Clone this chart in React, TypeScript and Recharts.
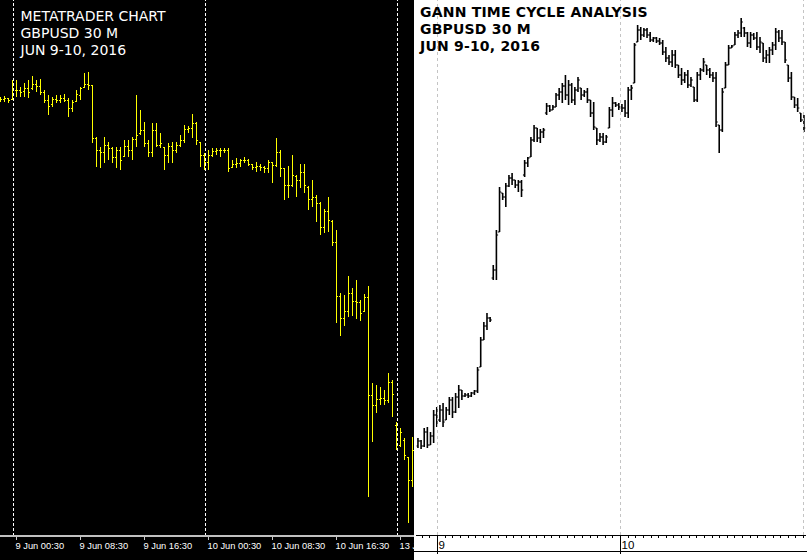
import React from 'react';
import { ComposedChart, Bar, XAxis, YAxis, ReferenceLine } from 'recharts';

// ---------- LEFT PANEL (MetaTrader, GBPUSD 30M) ----------
const leftOpen = [1.4500,1.4501,1.4502,1.4500,1.4510,1.4510,1.4509,1.4512,1.4512,1.4516,1.4514,1.4508,1.4500,1.4496,1.4501,1.4500,1.4502,1.4500,1.4492,1.4499,1.4505,1.4513,1.4516,1.4515,1.4462,1.4450,1.4448,1.4455,1.4452,1.4443,1.4450,1.4443,1.4454,1.4450,1.4461,1.4467,1.4470,1.4457,1.4448,1.4470,1.4455,1.4453,1.4445,1.4454,1.4450,1.4455,1.4460,1.4471,1.4472,1.4477,1.4458,1.4445,1.4438,1.4445,1.4449,1.4450,1.4450,1.4450,1.4433,1.4436,1.4437,1.4440,1.4440,1.4436,1.4433,1.4434,1.4433,1.4432,1.4438,1.4435,1.4448,1.4432,1.4415,1.4415,1.4424,1.4420,1.4428,1.4413,1.4401,1.4403,1.4397,1.4373,1.4389,1.4379,1.4358,1.4304,1.4282,1.4289,1.4307,1.4299,1.4298,1.4289,1.4303,1.4205,1.4195,1.4201,1.4202,1.4200,1.4218,1.4175,1.4155,1.4160,1.4143,1.4120];
const leftHigh = [1.4503,1.4504,1.4502,1.4520,1.4520,1.4513,1.4517,1.4520,1.4524,1.4520,1.4521,1.4510,1.4505,1.4503,1.4505,1.4505,1.4506,1.4502,1.4500,1.4510,1.4513,1.4527,1.4528,1.4515,1.4463,1.4453,1.4463,1.4458,1.4453,1.4453,1.4453,1.4460,1.4460,1.4463,1.4505,1.4490,1.4478,1.4460,1.4477,1.4477,1.4467,1.4453,1.4457,1.4458,1.4458,1.4465,1.4475,1.4474,1.4486,1.4478,1.4458,1.4447,1.4450,1.4452,1.4452,1.4452,1.4452,1.4452,1.4440,1.4442,1.4441,1.4443,1.4441,1.4436,1.4438,1.4436,1.4434,1.4440,1.4438,1.4462,1.4450,1.4432,1.4434,1.4445,1.4425,1.4436,1.4436,1.4414,1.4420,1.4405,1.4398,1.4391,1.4403,1.4380,1.4370,1.4307,1.4305,1.4324,1.4312,1.4320,1.4300,1.4306,1.4314,1.4217,1.4215,1.4213,1.4210,1.4227,1.4220,1.4178,1.4172,1.4162,1.4143,1.4163];
const leftLow = [1.4498,1.4498,1.4497,1.4500,1.4503,1.4503,1.4503,1.4502,1.4510,1.4508,1.4505,1.4497,1.4485,1.4493,1.4497,1.4497,1.4498,1.4483,1.4488,1.4498,1.4500,1.4512,1.4510,1.4457,1.4433,1.4432,1.4437,1.4440,1.4437,1.4432,1.4430,1.4443,1.4443,1.4440,1.4453,1.4465,1.4453,1.4443,1.4443,1.4453,1.4452,1.4430,1.4437,1.4437,1.4447,1.4453,1.4457,1.4467,1.4462,1.4455,1.4433,1.4430,1.4430,1.4443,1.4445,1.4443,1.4447,1.4428,1.4432,1.4432,1.4433,1.4437,1.4434,1.4430,1.4428,1.4429,1.4427,1.4427,1.4417,1.4433,1.4423,1.4400,1.4402,1.4413,1.4403,1.4412,1.4407,1.4390,1.4393,1.4378,1.4365,1.4367,1.4368,1.4354,1.4277,1.4264,1.4274,1.4283,1.4284,1.4281,1.4279,1.4288,1.4103,1.4158,1.4187,1.4195,1.4195,1.4197,1.4183,1.4150,1.4153,1.4140,1.4077,1.4113];
const leftClose = [1.4501,1.4502,1.4500,1.4510,1.4510,1.4508,1.4512,1.4508,1.4516,1.4514,1.4508,1.4500,1.4494,1.4501,1.4500,1.4502,1.4500,1.4492,1.4498,1.4506,1.4512,1.4516,1.4515,1.4462,1.4450,1.4448,1.4455,1.4452,1.4443,1.4450,1.4440,1.4454,1.4450,1.4461,1.4465,1.4470,1.4457,1.4448,1.4470,1.4455,1.4457,1.4445,1.4454,1.4450,1.4455,1.4460,1.4471,1.4472,1.4477,1.4460,1.4445,1.4438,1.4445,1.4449,1.4450,1.4450,1.4450,1.4432,1.4436,1.4437,1.4440,1.4440,1.4436,1.4433,1.4434,1.4433,1.4432,1.4438,1.4435,1.4448,1.4432,1.4415,1.4415,1.4425,1.4420,1.4428,1.4415,1.4401,1.4403,1.4397,1.4373,1.4389,1.4380,1.4358,1.4304,1.4282,1.4289,1.4307,1.4299,1.4298,1.4287,1.4303,1.4205,1.4195,1.4201,1.4202,1.4200,1.4218,1.4206,1.4155,1.4168,1.4145,1.4120,1.4150];

const leftTickLabels = ['9 Jun 00:30', '9 Jun 08:30', '9 Jun 16:30', '10 Jun 00:30', '10 Jun 08:30', '10 Jun 16:30', '13 Jun 00:30'];
const leftSeparators = ['9 Jun 00:00', '10 Jun 00:00', '13 Jun 00:00'];
const leftTitle = ['METATRADER CHART', 'GBPUSD 30 M', 'JUN 9-10, 2016'];

// ---------- RIGHT PANEL (Gann time cycle) ----------
const rightOpen = [1.4154,1.4159,1.4154,1.4168,1.4155,1.4164,1.4185,1.4180,1.4190,1.4180,1.4190,1.4200,1.4188,1.4203,1.4210,1.4204,1.4205,1.4204,1.4207,1.4209,1.4233,1.4260,1.4274,1.4282,1.4322,1.4330,1.4368,1.4407,1.4403,1.4414,1.4422,1.4420,1.4415,1.4418,1.4425,1.4437,1.4443,1.4460,1.4472,1.4462,1.4468,1.4487,1.4494,1.4490,1.4493,1.4505,1.4508,1.4514,1.4505,1.4515,1.4500,1.4510,1.4512,1.4505,1.4508,1.4500,1.4487,1.4472,1.4460,1.4463,1.4458,1.4472,1.4490,1.4497,1.4495,1.4493,1.4492,1.4487,1.4510,1.4517,1.4558,1.4570,1.4565,1.4570,1.4565,1.4560,1.4562,1.4559,1.4557,1.4548,1.4542,1.4538,1.4545,1.4535,1.4525,1.4520,1.4525,1.4515,1.4513,1.4500,1.4525,1.4530,1.4535,1.4530,1.4525,1.4522,1.4475,1.4470,1.4512,1.4535,1.4552,1.4555,1.4565,1.4567,1.4572,1.4567,1.4557,1.4565,1.4562,1.4553,1.4557,1.4542,1.4545,1.4550,1.4555,1.4568,1.4562,1.4558,1.4535,1.4522,1.4503,1.4495,1.4487,1.4480];
const rightHigh = [1.4162,1.4160,1.4172,1.4173,1.4168,1.4190,1.4193,1.4195,1.4197,1.4193,1.4203,1.4203,1.4207,1.4215,1.4210,1.4207,1.4207,1.4208,1.4210,1.4233,1.4263,1.4278,1.4287,1.4283,1.4335,1.4370,1.4413,1.4407,1.4417,1.4425,1.4427,1.4420,1.4420,1.4420,1.4440,1.4443,1.4463,1.4475,1.4472,1.4471,1.4472,1.4497,1.4495,1.4495,1.4507,1.4512,1.4517,1.4525,1.4520,1.4517,1.4513,1.4523,1.4512,1.4510,1.4512,1.4500,1.4498,1.4472,1.4467,1.4467,1.4465,1.4493,1.4503,1.4498,1.4497,1.4496,1.4500,1.4513,1.4515,1.4557,1.4575,1.4573,1.4572,1.4572,1.4568,1.4563,1.4563,1.4562,1.4560,1.4553,1.4545,1.4550,1.4550,1.4535,1.4532,1.4528,1.4530,1.4523,1.4513,1.4528,1.4532,1.4542,1.4535,1.4532,1.4528,1.4528,1.4475,1.4512,1.4538,1.4555,1.4555,1.4568,1.4570,1.4582,1.4573,1.4568,1.4568,1.4567,1.4568,1.4563,1.4557,1.4550,1.4553,1.4558,1.4572,1.4570,1.4570,1.4558,1.4535,1.4528,1.4503,1.4502,1.4487,1.4485];
const rightLow = [1.4152,1.4151,1.4153,1.4152,1.4155,1.4157,1.4173,1.4178,1.4173,1.4180,1.4185,1.4182,1.4187,1.4192,1.4200,1.4203,1.4202,1.4203,1.4205,1.4207,1.4233,1.4260,1.4270,1.4278,1.4320,1.4320,1.4368,1.4400,1.4393,1.4413,1.4415,1.4412,1.4408,1.4403,1.4423,1.4433,1.4443,1.4458,1.4458,1.4457,1.4462,1.4485,1.4488,1.4490,1.4493,1.4500,1.4497,1.4500,1.4495,1.4497,1.4495,1.4508,1.4500,1.4503,1.4497,1.4483,1.4470,1.4455,1.4458,1.4455,1.4457,1.4472,1.4483,1.4493,1.4490,1.4488,1.4483,1.4482,1.4500,1.4517,1.4558,1.4560,1.4563,1.4562,1.4558,1.4558,1.4557,1.4555,1.4545,1.4538,1.4535,1.4533,1.4532,1.4522,1.4515,1.4517,1.4512,1.4513,1.4498,1.4498,1.4520,1.4528,1.4525,1.4522,1.4518,1.4473,1.4447,1.4468,1.4512,1.4535,1.4552,1.4555,1.4562,1.4563,1.4563,1.4553,1.4552,1.4560,1.4550,1.4547,1.4538,1.4537,1.4537,1.4545,1.4550,1.4558,1.4555,1.4537,1.4518,1.4500,1.4492,1.4488,1.4478,1.4468];
const rightClose = [1.4159,1.4154,1.4168,1.4155,1.4164,1.4185,1.4180,1.4190,1.4178,1.4190,1.4200,1.4188,1.4203,1.4210,1.4204,1.4205,1.4204,1.4207,1.4209,1.4230,1.4260,1.4274,1.4282,1.4280,1.4330,1.4365,1.4408,1.4403,1.4414,1.4422,1.4420,1.4415,1.4418,1.4410,1.4437,1.4442,1.4460,1.4472,1.4462,1.4468,1.4470,1.4494,1.4490,1.4493,1.4505,1.4508,1.4514,1.4505,1.4515,1.4500,1.4510,1.4520,1.4505,1.4508,1.4500,1.4487,1.4473,1.4460,1.4463,1.4458,1.4463,1.4490,1.4497,1.4495,1.4493,1.4492,1.4487,1.4510,1.4512,1.4555,1.4570,1.4565,1.4570,1.4565,1.4560,1.4562,1.4559,1.4557,1.4548,1.4542,1.4538,1.4545,1.4535,1.4525,1.4520,1.4525,1.4515,1.4520,1.4500,1.4525,1.4530,1.4538,1.4530,1.4525,1.4522,1.4478,1.4470,1.4508,1.4535,1.4552,1.4554,1.4565,1.4567,1.4578,1.4567,1.4557,1.4565,1.4562,1.4553,1.4558,1.4542,1.4545,1.4550,1.4555,1.4568,1.4562,1.4558,1.4540,1.4522,1.4503,1.4495,1.4492,1.4480,1.4472];

// time of the first right-panel bar (hours from 9 Jun 00:00) and bar step in hours
const rightFirstBarHour = -2.49;
const rightBarStepHours = 0.41155;
const rightDayHours = [0, 24];
const rightDayLabels = ['9', '10'];
const rightSeparatorHours = [0, 24, 48];
const rightTitle = ['GANN TIME CYCLE ANALYSIS', 'GBPUSD 30 M', 'JUN 9-10, 2016'];

// ---------- build tables ----------
const pad = (n: number) => (n < 10 ? '0' + n : '' + n);
const leftData = (() => {
  const out: any[] = [];
  let day = 8;
  let mins = 22 * 60 + 30;
  for (let i = 0; i < leftOpen.length; i++) {
    out.push({
      t: `${day} Jun ${pad(Math.floor(mins / 60))}:${pad(mins % 60)}`,
      o: leftOpen[i], h: leftHigh[i], l: leftLow[i], c: leftClose[i],
    });
    mins += 30;
    if (mins >= 24 * 60) {
      mins = 0;
      day = day === 10 ? 13 : day + 1;
    }
  }
  return out;
})();

const rightData = rightOpen.map((o, i) => ({
  hr: rightFirstBarHour + i * rightBarStepHours,
  o, h: rightHigh[i], l: rightLow[i], c: rightClose[i],
}));
const rulerTicks: number[] = [];
for (let h = -2; h <= 48; h++) rulerTicks.push(h);

const range = (d: any) => [d.l, d.h];

function geom(props: any) {
  const { x, y, width, height, payload } = props;
  const cx = x + width / 2;
  const top = Math.min(y, y + height);
  const bot = Math.max(y, y + height);
  const span = payload.h - payload.l;
  const at = (v: number) => (span === 0 ? top : top + ((payload.h - v) / span) * (bot - top));
  return { cx, top, bot, oy: at(payload.o), cy: at(payload.c) };
}

const LeftBar = (props: any) => {
  if (!props || !props.payload || props.x == null) return <g />;
  const { cx, top, bot, oy, cy } = geom(props);
  const bx = Math.floor(cx) - 1;
  const t = Math.round(top);
  const b = Math.max(t + 1, Math.round(bot));
  const clampY = (v: number) => Math.min(b - 1, Math.max(t, Math.round(v)));
  return (
    <g shapeRendering="crispEdges">
      <rect x={bx} y={t} width={1} height={b - t} fill="#ffff00" />
      <rect x={bx - 1} y={clampY(oy)} width={1} height={1} fill="#ffff00" />
      <rect x={bx + 1} y={clampY(cy)} width={1} height={1} fill="#ffff00" />
    </g>
  );
};

const RightBar = (props: any) => {
  if (!props || !props.payload || props.x == null) return <g />;
  const { cx, top, bot, oy, cy } = geom(props);
  return (
    <g shapeRendering="geometricPrecision">
      <line x1={cx} x2={cx} y1={top} y2={Math.max(bot, top + 1)} stroke="#000" strokeWidth={1.6} />
      <line x1={cx - 1.7} x2={cx} y1={oy} y2={oy} stroke="#000" strokeWidth={1.2} />
      <line x1={cx} x2={cx + 1.7} y1={cy} y2={cy} stroke="#000" strokeWidth={1.2} />
    </g>
  );
};

const LeftTick = (props: any) => {
  const { x, y, payload } = props;
  return (
    <g>
      <rect x={Math.round(x) - 1} y={y + 1} width={1} height={3} fill="#c8c8c8" />
      <text x={x - 1.5} y={y + 13.4} fill="#ffffff" fontFamily="'Liberation Sans', Arial, sans-serif" fontSize={9.3} textAnchor="start">
        {payload.value}
      </text>
    </g>
  );
};

const RulerTick = (props: any) => {
  const { x, y, payload } = props;
  const idx = rightDayHours.indexOf(payload.value);
  const major = idx >= 0;
  return (
    <g>
      <rect x={Math.round(x)} y={y} width={1} height={major ? 19 : 3} fill="#000" />
      {major ? (
        <text x={Math.round(x) + 1.5} y={y + 13.5} fill="#000" fontFamily="'Liberation Sans', Arial, sans-serif" fontSize={11.5} textAnchor="start">
          {rightDayLabels[idx]}
        </text>
      ) : null}
    </g>
  );
};

const titleStyle = (color: string, left: number, top: number, weight: string | number, spacing: number): React.CSSProperties => ({
  position: 'absolute',
  left,
  top,
  color,
  fontFamily: "'DejaVu Sans', sans-serif",
  fontSize: 14,
  lineHeight: '17px',
  fontWeight: weight as any,
  letterSpacing: spacing,
  whiteSpace: 'pre',
  pointerEvents: 'none',
});

export default function App() {
  return (
    <div style={{ position: 'fixed', left: 0, top: 0, width: 807, height: 560, overflow: 'hidden', background: '#ffffff' }}>
      {/* Left panel */}
      <div style={{ position: 'absolute', left: 0, top: 0, width: 414, height: 560, background: '#000', overflow: 'hidden', shapeRendering: 'crispEdges' as any }}>
        <div style={{ position: 'absolute', left: -1, top: 0 }}>
          <ComposedChart width={416} height={560} data={leftData} margin={{ top: 0, right: 0, bottom: 0, left: 0 }} barCategoryGap={0}>
            <XAxis
              dataKey="t"
              type="category"
              height={24}
              ticks={leftTickLabels}
              interval={0}
              tickSize={0}
              tickMargin={0}
              tickLine={false}
              axisLine={{ stroke: '#c0c0c0', strokeWidth: 2 }}
              tick={<LeftTick />}
            />
            <YAxis hide domain={[1.4064, 1.46]} allowDataOverflow />
            {leftSeparators.map((s) => (
              <ReferenceLine key={s} x={s} stroke="#ffffff" strokeWidth={1} strokeDasharray="3 2" />
            ))}
            <Bar dataKey={range} shape={<LeftBar />} isAnimationActive={false} />
          </ComposedChart>
        </div>
        <div style={titleStyle('#ffffff', 20.5, 8.4, 'normal', 0)}>{leftTitle.join('\n')}</div>
      </div>

      {/* Right panel */}
      <div style={{ position: 'absolute', left: 414, top: 0, width: 393, height: 560, background: '#fff', overflow: 'hidden', shapeRendering: 'crispEdges' as any }}>
        <ComposedChart width={393} height={560} data={rightData} margin={{ top: 0, right: 1.47, bottom: 0, left: 2.43 }} barCategoryGap={0}>
          <XAxis
            dataKey="hr"
            type="number"
            domain={[-2.698, 48.33]}
            allowDataOverflow
            ticks={rulerTicks}
            interval={0}
            height={25}
            tickSize={0}
            tickMargin={0}
            tickLine={false}
            axisLine={{ stroke: '#000', strokeWidth: 1 }}
            tick={<RulerTick />}
          />
          <YAxis hide domain={[1.4065, 1.46]} allowDataOverflow />
          {rightSeparatorHours.map((h) => (
            <ReferenceLine key={h} x={h} stroke="#c4c4c4" strokeWidth={1} strokeDasharray="3 3" />
          ))}
          <Bar dataKey={range} shape={<RightBar />} isAnimationActive={false} />
        </ComposedChart>
        <div style={{ position: 'absolute', left: 0, top: 551, width: 393, height: 1, background: '#000' }} />
        <div style={titleStyle('#000000', 6, 4.2, 'bold', 0.2)}>{rightTitle.join('\n')}</div>
      </div>
    </div>
  );
}
